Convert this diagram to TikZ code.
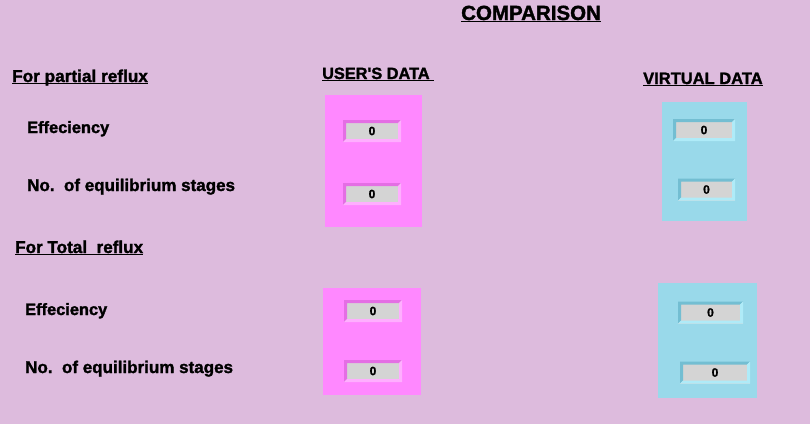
\documentclass[tikz,border=0pt]{standalone}
\usepackage{fontspec}
\setmainfont{Liberation Sans}[BoldFeatures={FakeBold=1.6}]
\definecolor{bg}{RGB}{221,187,221}
\definecolor{pinkp}{RGB}{255,136,255}
\definecolor{cyanp}{RGB}{153,217,234}
\definecolor{fgray}{RGB}{212,212,212}
\definecolor{pinkdark}{RGB}{228,110,228}
\definecolor{pinklight}{RGB}{255,175,255}
\definecolor{cyandark}{RGB}{115,190,210}
\definecolor{cyanlight}{RGB}{175,235,248}
\newcommand\ulx[1]{\underline{\smash{#1}}}
\tikzset{
  lbl/.style={anchor=base west, inner sep=0pt, font=\fontsize{#1}{#1}\selectfont\bfseries},
  hdr/.style={anchor=base west, inner sep=0pt, font=\fontsize{#1}{#1}\selectfont\bfseries},
  panel/.style={fill=#1, draw=none, inner sep=0pt},
  field/.style={fill=fgray, draw=none, inner sep=0pt, minimum height=22pt,
    font=\fontsize{12}{12}\selectfont\bfseries,
    path picture={
      \fill[#1dark] (path picture bounding box.south west) -- (path picture bounding box.north west)
        -- (path picture bounding box.north east) -- ([shift={(-3pt,-3pt)}]path picture bounding box.north east)
        -- ([shift={(3pt,-3pt)}]path picture bounding box.north west) -- ([shift={(3pt,3pt)}]path picture bounding box.south west) -- cycle;
      \fill[#1light] (path picture bounding box.south west) -- (path picture bounding box.south east)
        -- (path picture bounding box.north east) -- ([shift={(-3pt,-3pt)}]path picture bounding box.north east)
        -- ([shift={(-3pt,3pt)}]path picture bounding box.south east) -- ([shift={(3pt,3pt)}]path picture bounding box.south west) -- cycle;
    }},
}
\begin{document}
\begin{tikzpicture}[x=1pt,y=-1pt]
\fill[bg] (0,0) rectangle (810,424);
\useasboundingbox (0,0) rectangle (810,424);

% headers
\node[hdr=20.5] (title) at (461,20) {\ulx{COMPARISON}};
\node[hdr=16.3] (users) at (322,79) {\ulx{USER\textquotesingle S DATA\ }};
\node[hdr=16.5] (virtual) at (643,84) {\ulx{VIRTUAL DATA}};

% labels
\node[lbl=17.2] (partial) at (12,82) {\ulx{For partial reflux}};
\node[lbl=16.4] (eff1) at (27,133) {Effeciency};
\node[lbl=17] (stg1) at (27,191) {No.\ \ of equilibrium stages};
\node[lbl=17.1] (total) at (15,253) {\ulx{For Total\ \ reflux}};
\node[lbl=16.4] (eff2) at (25,315) {Effeciency};
\node[lbl=17] (stg2) at (25,373) {No.\ \ of equilibrium stages};

% panels
\node[panel=pinkp, minimum width=97pt, minimum height=132pt] (up1) at (373.5,161) {};
\node[panel=pinkp, minimum width=98pt, minimum height=107pt] (up2) at (372,341.5) {};
\node[panel=cyanp, minimum width=85pt, minimum height=119pt] (vp1) at (704.5,161.5) {};
\node[panel=cyanp, minimum width=99pt, minimum height=115pt] (vp2) at (707.5,340.5) {};

% fields
\node[field=pink, minimum width=58pt] (uf1) at (372,131) {0};
\node[field=pink, minimum width=58pt] (uf2) at (372,194) {0};
\node[field=pink, minimum width=58pt] (uf3) at (373,311) {0};
\node[field=pink, minimum width=58pt] (uf4) at (373,371) {0};
\node[field=cyan, minimum width=62pt] (vf1) at (704,130) {0};
\node[field=cyan, minimum width=57pt] (vf2) at (706.5,189.5) {0};
\node[field=cyan, minimum width=65pt] (vf3) at (710.5,312.5) {0};
\node[field=cyan, minimum width=70pt] (vf4) at (715,372.5) {0};
\end{tikzpicture}
\end{document}
